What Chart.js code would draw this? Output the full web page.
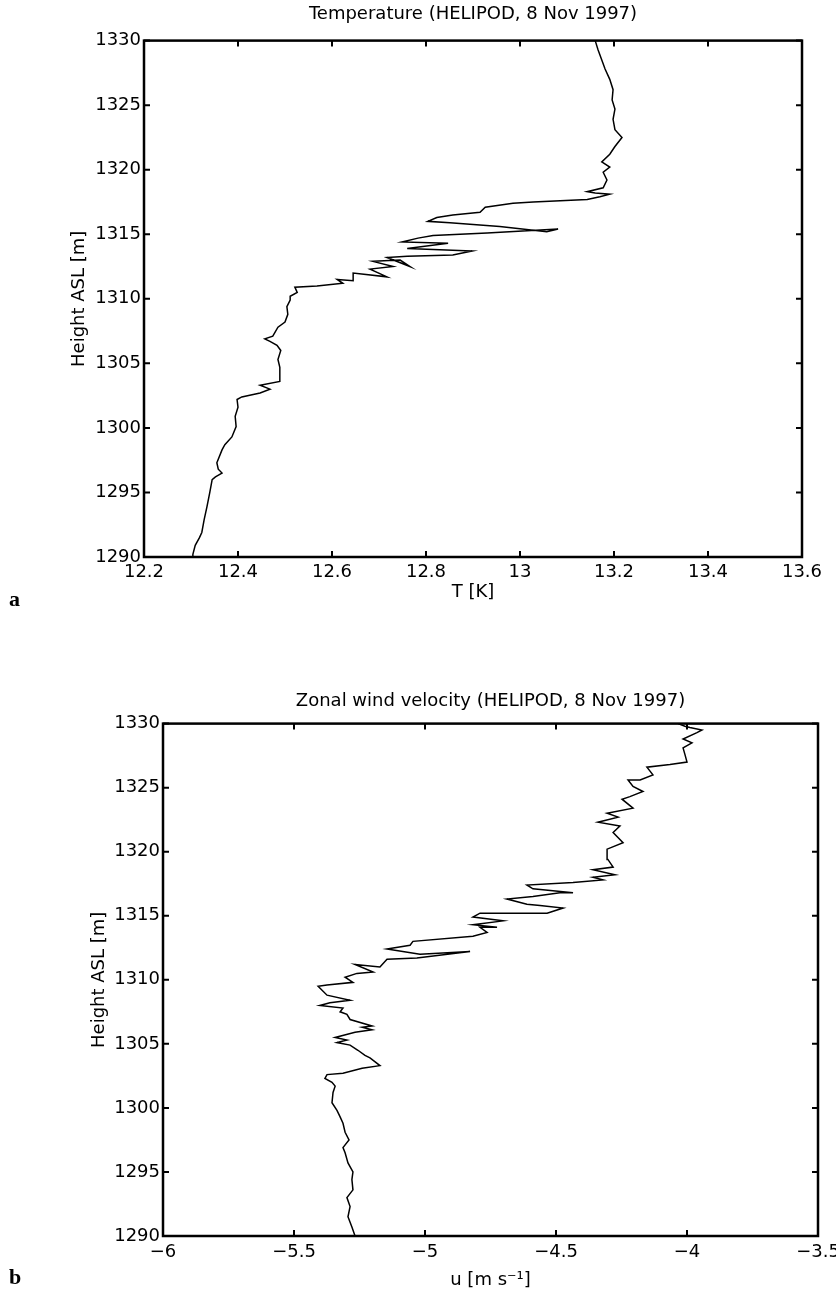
<!DOCTYPE html>
<html>
<head>
<meta charset="utf-8">
<script src="https://cdn.jsdelivr.net/npm/chart.js@4"></script>
<style>
  body { margin: 0; background: #fff; overflow: hidden; }
  #wrap { position: relative; width: 836px; height: 1298px; overflow: hidden; }
  canvas { position: absolute; left: 0; }
  .tag { position: absolute; font-family: "Liberation Serif", "DejaVu Serif", serif; font-weight: bold; font-size: 22px; }
</style>
</head>
<body>
<div id="wrap">
  <canvas id="tempChart" width="860" height="620" style="top:0"></canvas>
  <canvas id="windChart" width="860" height="658" style="top:640px"></canvas>
  <div class="tag" style="left:9px; top:586px">a</div>
  <div class="tag" style="left:9px; top:1264px">b</div>
</div>
<script>
// profile a: temperature vs height
const tempHeight = [1290.0,1290.2,1290.9,1291.5,1291.9,1292.9,1293.9,1295.0,1296.0,1296.2,1296.5,1296.8,1297.3,1298.3,1298.7,1299.3,1300.1,1300.9,1301.6,1302.2,1302.4,1302.7,1303.0,1303.3,1303.6,1304.7,1305.3,1306.0,1306.4,1306.7,1306.9,1307.1,1307.8,1308.2,1308.8,1309.4,1309.9,1310.2,1310.5,1310.9,1311.0,1311.2,1311.5,1311.4,1312.0,1311.7,1312.3,1312.5,1312.9,1313.0,1312.5,1313.2,1313.3,1313.4,1313.7,1313.9,1314.3,1314.4,1314.7,1314.9,1315.1,1315.4,1315.2,1315.6,1315.9,1316.0,1316.3,1316.5,1316.7,1317.1,1317.4,1317.5,1317.7,1317.9,1318.1,1318.2,1318.3,1318.6,1319.2,1319.8,1320.2,1320.6,1321.2,1321.8,1322.5,1323.1,1323.9,1324.7,1325.4,1326.2,1327.0,1327.8,1328.5,1329.3,1330.0];
const tempK = [12.303,12.304,12.309,12.318,12.323,12.328,12.334,12.340,12.345,12.352,12.366,12.358,12.355,12.366,12.372,12.387,12.396,12.394,12.400,12.398,12.408,12.447,12.468,12.447,12.489,12.489,12.485,12.491,12.483,12.468,12.457,12.474,12.485,12.500,12.506,12.504,12.511,12.511,12.526,12.521,12.568,12.623,12.611,12.645,12.645,12.717,12.681,12.730,12.687,12.745,12.766,12.717,12.760,12.857,12.898,12.760,12.847,12.749,12.783,12.815,12.930,13.081,13.057,12.957,12.851,12.804,12.823,12.857,12.915,12.926,12.985,13.028,13.143,13.170,13.191,13.160,13.143,13.177,13.185,13.177,13.191,13.174,13.191,13.202,13.217,13.202,13.198,13.202,13.196,13.198,13.191,13.181,13.174,13.166,13.160];

// profile b: zonal wind vs height
const windHeight = [1290.0,1290.7,1291.5,1292.3,1293.0,1293.6,1294.4,1295.0,1295.7,1296.5,1296.9,1297.5,1298.1,1298.8,1299.3,1299.8,1300.4,1301.2,1301.7,1302.0,1302.3,1302.6,1302.7,1303.1,1303.3,1303.9,1304.1,1304.5,1304.9,1305.1,1305.3,1305.5,1305.9,1306.1,1306.3,1306.4,1306.9,1307.3,1307.5,1307.8,1308.0,1308.2,1308.4,1308.8,1309.5,1309.6,1309.8,1310.2,1310.5,1310.6,1311.2,1311.0,1311.6,1311.7,1312.2,1312.0,1312.4,1312.7,1313.0,1313.4,1313.7,1314.1,1314.1,1314.3,1314.6,1314.9,1315.2,1315.2,1315.6,1315.8,1315.9,1316.3,1316.5,1316.8,1316.8,1317.1,1317.4,1317.6,1317.8,1318.0,1318.2,1318.6,1318.8,1319.4,1320.2,1320.7,1321.5,1322.0,1322.3,1322.7,1323.0,1323.4,1324.1,1324.3,1324.7,1325.1,1325.6,1325.6,1326.0,1326.6,1326.8,1327.0,1327.6,1328.1,1328.5,1328.8,1329.3,1329.5,1329.7,1329.8,1330.0];
const windU = [-5.267,-5.279,-5.294,-5.286,-5.298,-5.275,-5.279,-5.275,-5.294,-5.305,-5.313,-5.290,-5.305,-5.313,-5.324,-5.336,-5.355,-5.351,-5.343,-5.355,-5.382,-5.374,-5.313,-5.240,-5.172,-5.210,-5.229,-5.256,-5.286,-5.336,-5.298,-5.343,-5.267,-5.202,-5.240,-5.202,-5.286,-5.298,-5.324,-5.313,-5.401,-5.363,-5.286,-5.374,-5.408,-5.374,-5.275,-5.305,-5.260,-5.198,-5.267,-5.172,-5.145,-5.031,-4.828,-5.019,-5.145,-5.057,-5.046,-4.817,-4.763,-4.790,-4.725,-4.817,-4.702,-4.817,-4.790,-4.534,-4.473,-4.561,-4.611,-4.687,-4.588,-4.485,-4.435,-4.588,-4.611,-4.435,-4.321,-4.359,-4.275,-4.359,-4.282,-4.302,-4.305,-4.244,-4.282,-4.256,-4.340,-4.263,-4.305,-4.206,-4.248,-4.218,-4.168,-4.206,-4.225,-4.179,-4.130,-4.153,-4.065,-4.000,-4.008,-4.015,-3.981,-4.015,-3.962,-3.943,-3.989,-4.008,-4.034];

const heightTicks = [1290, 1295, 1300, 1305, 1310, 1315, 1320, 1325, 1330];

Chart.defaults.font.family = '"DejaVu Sans", "Liberation Sans", sans-serif';
Chart.defaults.font.size = 18;
Chart.defaults.color = '#000';

// box round the plot with inward ticks, like the matlab axes
const framePlugin = {
  id: 'frame',
  afterDatasetsDraw(chart) {
    const { ctx, chartArea: a, scales: { x, y } } = chart;
    ctx.save();
    ctx.strokeStyle = '#000';
    ctx.lineWidth = 2.5;
    ctx.strokeRect(a.left, a.top, a.right - a.left, a.bottom - a.top);
    ctx.lineWidth = 2;
    ctx.beginPath();
    x.ticks.forEach(t => {
      const px = x.getPixelForValue(t.value);
      ctx.moveTo(px, a.bottom); ctx.lineTo(px, a.bottom - 6);
      ctx.moveTo(px, a.top); ctx.lineTo(px, a.top + 6);
    });
    y.ticks.forEach(t => {
      const py = y.getPixelForValue(t.value);
      ctx.moveTo(a.left, py); ctx.lineTo(a.left + 6, py);
      ctx.moveTo(a.right, py); ctx.lineTo(a.right - 6, py);
    });
    ctx.stroke();
    ctx.restore();
  }
};

function makeProfile(canvasId, heights, values, cfg) {
  const points = heights.map((h, i) => ({ x: values[i], y: h }));
  return new Chart(document.getElementById(canvasId), {
    type: 'scatter',
    data: {
      datasets: [{
        data: points,
        showLine: true,
        borderColor: '#000',
        borderWidth: 1.5,
        pointRadius: 0,
        tension: 0
      }]
    },
    options: {
      responsive: false,
      animation: false,
      layout: { padding: cfg.padding },
      plugins: {
        legend: { display: false },
        tooltip: { enabled: false },
        title: {
          display: true,
          text: cfg.title,
          fullSize: false,
          font: { size: 18, weight: 'normal' },
          padding: { top: 0, bottom: cfg.titleGap }
        }
      },
      scales: {
        x: {
          type: 'linear',
          min: cfg.xMin,
          max: cfg.xMax,
          grid: { display: false, drawTicks: false },
          border: { display: false },
          afterFit: s => { s.height = cfg.xHeight; },
          ticks: {
            stepSize: cfg.xStep,
            padding: cfg.xTickPad,
            maxRotation: 0,
            callback: v => String(+v.toFixed(2)).replace('-', '\u2212')
          },
          title: {
            display: true,
            text: cfg.xLabel,
            font: { size: 18 },
            padding: { top: 0, bottom: cfg.xTitlePad }
          }
        },
        y: {
          type: 'linear',
          min: 1290,
          max: 1330,
          grid: { display: false, drawTicks: false },
          border: { display: false },
          afterFit: s => { s.width = cfg.yWidth; },
          afterBuildTicks: s => { s.ticks = heightTicks.map(v => ({ value: v })); },
          ticks: { padding: 3, callback: v => String(v) },
          title: {
            display: true,
            text: 'Height ASL [m]',
            font: { size: 18 },
            padding: { top: cfg.yTitlePad, bottom: 0 }
          }
        }
      }
    },
    plugins: [framePlugin]
  });
}

makeProfile('tempChart', tempHeight, tempK, {
  title: 'Temperature (HELIPOD, 8 Nov 1997)',
  padding: { top: 4, left: 0, right: 58, bottom: 0 },
  titleGap: 15,
  xMin: 12.2, xMax: 13.6, xStep: 0.2,
  xHeight: 63, xTickPad: 5, xTitlePad: 17,
  xLabel: 'T [K]',
  yWidth: 144, yTitlePad: 69
});

makeProfile('windChart', windHeight, windU, {
  title: 'Zonal wind velocity (HELIPOD, 8 Nov 1997)',
  padding: { top: 51, left: 0, right: 42, bottom: 0 },
  titleGap: 11,
  xMin: -6, xMax: -3.5, xStep: 0.5,
  xHeight: 62, xTickPad: 6, xTitlePad: 7,
  xLabel: 'u [m s\u207B\u00B9]',
  yWidth: 163, yTitlePad: 89
});
</script>
</body>
</html>
